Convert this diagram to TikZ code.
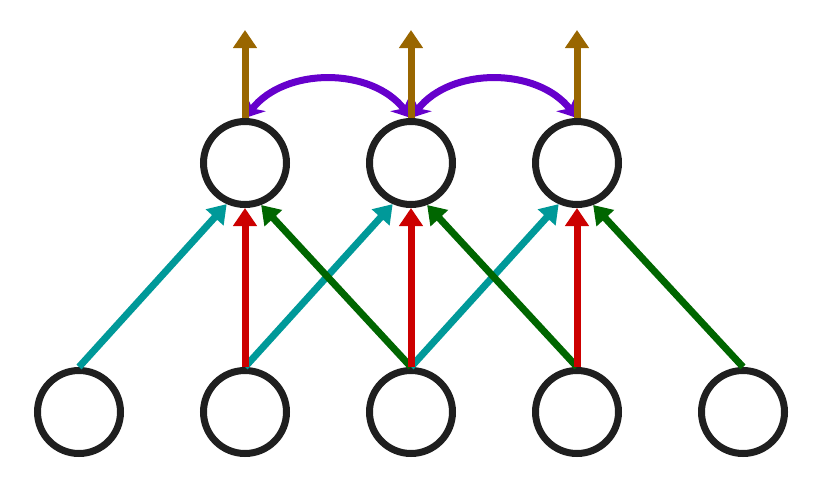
\documentclass[tikz,border=0pt]{standalone}
\usepackage{xcolor}
\usetikzlibrary{arrows.meta}
\definecolor{ringgray}{HTML}{1F1F1F}
\definecolor{teal1}{HTML}{009999}
\definecolor{red1}{HTML}{CC0000}
\definecolor{green1}{HTML}{006600}
\definecolor{brown1}{HTML}{996600}
\definecolor{purple1}{HTML}{6600CC}

\begin{document}
\begin{tikzpicture}[x=1pt,y=-1pt, every node/.style={draw=ringgray,line width=7pt,circle,minimum size=83pt,inner sep=0pt},%
        conn/.style={line width=7pt, -{Triangle[length=18pt,width=23pt]}},
        wleft/.style={conn,teal1}, wmid/.style={conn,red1}, wright/.style={conn,green1},
        wout/.style={conn,brown1}, wrec/.style={line width=7pt, purple1, {Stealth[length=18pt,width=24pt]}-{Stealth[length=18pt,width=24pt]}, bend left=52}]
        \useasboundingbox (0,0) rectangle (830,498);
        \node (x1) at (79,412) {};
        \node (x2) at (245,412) {};
        \node (x3) at (411,412) {};
        \node (x4) at (577,412) {};
        \node (x5) at (743,412) {};
        \node (h1) at (245,163) {};
        \node (h2) at (411,163) {};
        \node (h3) at (577,163) {};
        \coordinate (y1) at (245,30);
        \coordinate (y2) at (411,30);
        \coordinate (y3) at (577,30);
        \draw[wleft] (x1.north) -- (h1.-114);
        \draw[wleft] (x2.north) -- (h2.-114);
        \draw[wleft] (x3.north) -- (h3.-114);
        \draw[wright] (x3.north) -- (h1.-69);
        \draw[wright] (x4.north) -- (h2.-69);
        \draw[wright] (x5.north) -- (h3.-69);
        \draw[wmid] (x2.north) -- (h1.south);
        \draw[wmid] (x3.north) -- (h2.south);
        \draw[wmid] (x4.north) -- (h3.south);
        \draw[wrec] (h1.north) to (h2.north);
        \draw[wrec] (h2.north) to (h3.north);
        \draw[wout] (h1.north) -- (y1);
        \draw[wout] (h2.north) -- (y2);
        \draw[wout] (h3.north) -- (y3);
    \end{tikzpicture}
\end{document}
